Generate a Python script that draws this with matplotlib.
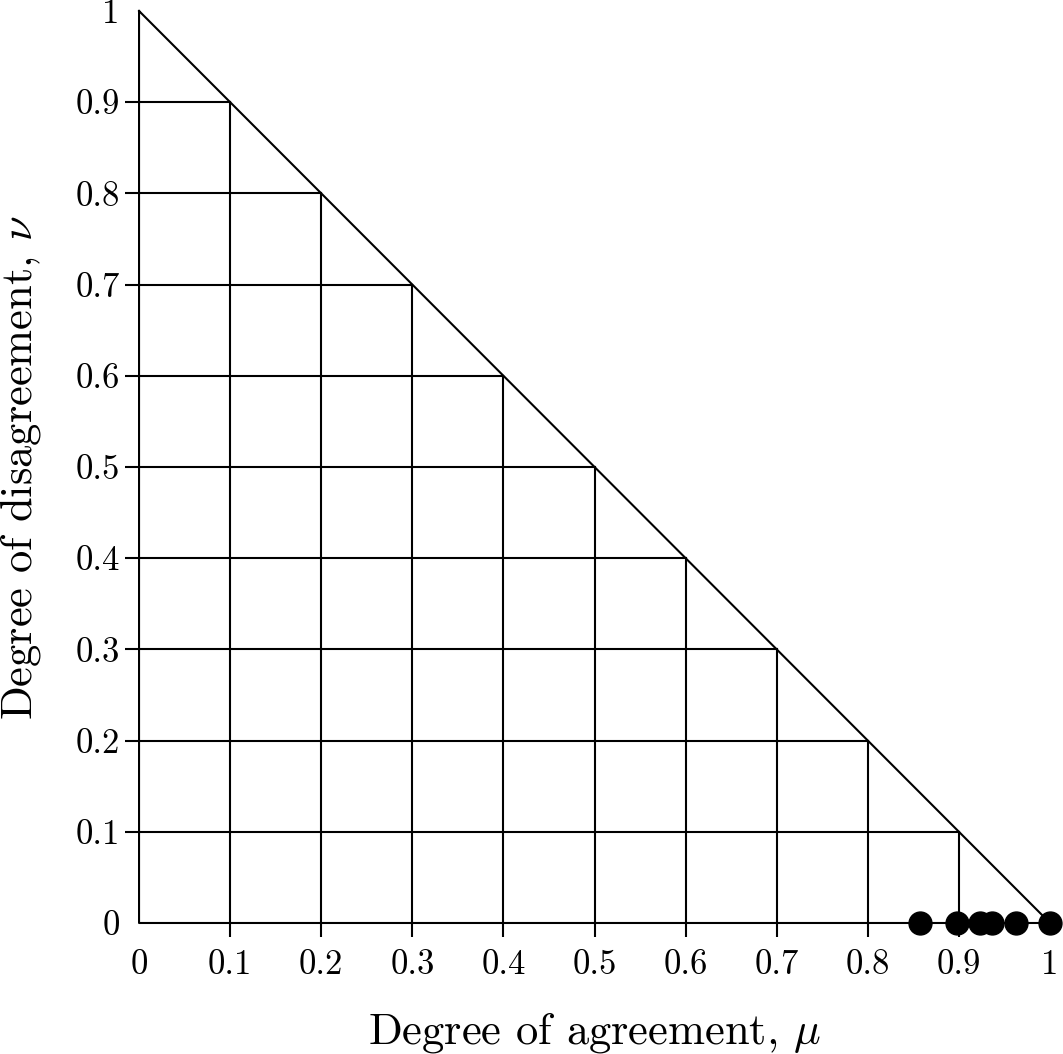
import matplotlib

matplotlib.use("Agg")
import matplotlib.pyplot as plt

plt.rcParams["font.family"] = "serif"
plt.rcParams["font.serif"] = ["cmr10", "DejaVu Serif"]
plt.rcParams["mathtext.fontset"] = "cm"
plt.rcParams["axes.formatter.use_mathtext"] = True

# grid levels of the intuitionistic triangle
grid_levels = [0.1, 0.2, 0.3, 0.4, 0.5, 0.6, 0.7, 0.8, 0.9]
tick_values = [0, 0.1, 0.2, 0.3, 0.4, 0.5, 0.6, 0.7, 0.8, 0.9, 1]
tick_labels = ["0", "0.1", "0.2", "0.3", "0.4", "0.5", "0.6", "0.7", "0.8", "0.9", "1"]

# observed points (agreement, disagreement)
mu_values = [0.857, 0.898, 0.923, 0.936, 0.963, 1.0]
nu_values = [0, 0, 0, 0, 0, 0]

fig = plt.figure(figsize=(10.63, 10.54), dpi=100)
ax = fig.add_axes([0.1308, 0.1243, 0.857, 0.8653])

lw = 1.5
ax.plot([0, 0, 1, 0], [1, 0, 0, 1], color="black", lw=lw, clip_on=False)
for level in grid_levels:
    ax.plot([0, 1 - level], [level, level], color="black", lw=lw, clip_on=False)
    ax.plot([level, level], [0, 1 - level], color="black", lw=lw, clip_on=False)

ax.plot(mu_values, nu_values, "o", color="black", markersize=16.5, clip_on=False, zorder=5)

ax.set_xlim(0, 1)
ax.set_ylim(0, 1)
for side in ["top", "right", "left", "bottom"]:
    ax.spines[side].set_visible(False)

# labels on every value, tick marks only on the inner grid levels
ax.set_xticks(tick_values)
ax.set_xticklabels(tick_labels)
ax.set_yticks(tick_values)
ax.set_yticklabels(tick_labels)
ax.set_xticks(grid_levels, minor=True)
ax.set_yticks(grid_levels, minor=True)
ax.xaxis.remove_overlapping_locs = False
ax.yaxis.remove_overlapping_locs = False
ax.tick_params(which="major", length=0, labelsize=25)
ax.tick_params(axis="x", which="major", pad=19)
ax.tick_params(axis="y", which="major", pad=14)
ax.tick_params(which="minor", direction="out", length=10, width=lw)

fig.text(0.5593, 0.0104, r"Degree of agreement, $\mu$", fontsize=32,
         ha="center", va="baseline")
fig.text(0.0301, 0.5569, r"Degree of disagreement, $\nu$", fontsize=32,
         ha="center", va="baseline", rotation=90, rotation_mode="anchor")

fig.savefig("out.png", dpi=100)
